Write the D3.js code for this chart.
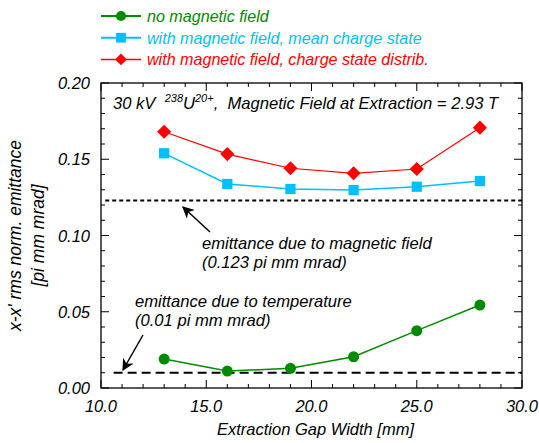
<!DOCTYPE html>
<html>
<head>
<meta charset="utf-8">
<script src="https://cdn.jsdelivr.net/npm/d3@7"></script>
<style>
  body { margin: 0; background: #fff; }
  svg text { font-family: "Liberation Sans", Arial, sans-serif; font-style: italic; }
</style>
</head>
<body>
<svg id="chart"></svg>
<script>
// data
const gapWidth = [13, 16, 19, 22, 25, 28];
const noField = [0.0190, 0.0111, 0.0129, 0.0205, 0.0376, 0.0544];
const meanCharge = [0.1539, 0.1338, 0.1305, 0.1298, 0.1320, 0.1357];
const chargeDistrib = [0.1680, 0.1534, 0.1441, 0.1408, 0.1436, 0.1707];
const xTicks = [10, 15, 20, 25, 30];
const yTicks = [0, 0.05, 0.10, 0.15, 0.20];
const magneticLevel = 0.123;
const temperatureLevel = 0.01;

const [w, h] = [539, 443];
const margin = {left: 101, right: 17, top: 83, bottom: 55};

const svg = d3.select("#chart").attr("width", w).attr("height", h);

const x = d3.scaleLinear().domain([10, 30]).range([margin.left, w - margin.right]);
const y = d3.scaleLinear().domain([0, 0.2]).range([h - margin.bottom, margin.top]);

const green = "#008a00", cyan = "#00bfff", red = "#ff0000";

// frame
svg.append("rect")
  .attr("x", x(10)).attr("y", y(0.2))
  .attr("width", x(30) - x(10)).attr("height", y(0) - y(0.2))
  .attr("fill", "none").attr("stroke", "#000").attr("stroke-width", 1.3);

// ticks, all pointing inward
const minorX = d3.range(10, 30.01, 1);
const minorY = d3.range(0, 0.2001, 0.01);
const isMajorX = v => Math.abs(v % 5) < 1e-6;
const isMajorY = v => Math.abs(Math.round(v * 100) % 5) < 1e-6;

const ticks = svg.append("g").attr("stroke", "#000").attr("stroke-width", 1);
minorX.forEach(v => {
  const len = isMajorX(v) ? 8 : 4;
  ticks.append("line").attr("x1", x(v)).attr("x2", x(v)).attr("y1", y(0)).attr("y2", y(0) - len);
  ticks.append("line").attr("x1", x(v)).attr("x2", x(v)).attr("y1", y(0.2)).attr("y2", y(0.2) + len);
});
minorY.forEach(v => {
  const len = isMajorY(v) ? 8 : 4;
  ticks.append("line").attr("y1", y(v)).attr("y2", y(v)).attr("x1", x(10)).attr("x2", x(10) + len);
  ticks.append("line").attr("y1", y(v)).attr("y2", y(v)).attr("x1", x(30)).attr("x2", x(30) - len);
});

// tick labels
svg.append("g").selectAll("text").data(xTicks).join("text")
  .attr("x", d => x(d)).attr("y", y(0) + 24)
  .attr("text-anchor", "middle").attr("font-size", 16.5)
  .text(d3.format(".1f"));
svg.append("g").selectAll("text").data(yTicks).join("text")
  .attr("x", x(10) - 11).attr("y", d => y(d) + 6)
  .attr("text-anchor", "end").attr("font-size", 16.5)
  .text(d3.format(".2f"));

// axis titles
svg.append("text")
  .attr("x", (x(10) + x(30)) / 2 + 4).attr("y", 435)
  .attr("text-anchor", "middle").attr("font-size", 16.5)
  .text("Extraction Gap Width [mm]");
const yTitle = svg.append("g").attr("transform", `translate(0, ${(y(0) + y(0.2)) / 2}) rotate(-90)`);
yTitle.append("text").attr("x", 0).attr("y", 21).attr("text-anchor", "middle").attr("font-size", 17.5)
  .text("x-x' rms norm. emittance");
yTitle.append("text").attr("x", 0).attr("y", 44).attr("text-anchor", "middle").attr("font-size", 17.5)
  .text("[pi mm mrad]");

// reference levels
svg.append("line")
  .attr("x1", x(10.2)).attr("x2", x(30)).attr("y1", y(magneticLevel)).attr("y2", y(magneticLevel))
  .attr("stroke", "#000").attr("stroke-width", 2).attr("stroke-dasharray", "4,3");
svg.append("line")
  .attr("x1", x(10.6)).attr("x2", x(30)).attr("y1", y(temperatureLevel)).attr("y2", y(temperatureLevel))
  .attr("stroke", "#000").attr("stroke-width", 2).attr("stroke-dasharray", "9,5");

// arrows
svg.append("defs").append("marker")
  .attr("id", "head").attr("viewBox", "0 0 10 10").attr("refX", 9).attr("refY", 5)
  .attr("markerWidth", 12).attr("markerHeight", 12).attr("markerUnits", "userSpaceOnUse")
  .attr("orient", "auto")
  .append("path").attr("d", "M0,0 L10,5 L0,10 L3,5 Z").attr("fill", "#000");
svg.append("line")
  .attr("x1", 210).attr("y1", 232).attr("x2", 183).attr("y2", 207)
  .attr("stroke", "#000").attr("stroke-width", 1.5).attr("marker-end", "url(#head)");
svg.append("line")
  .attr("x1", 143).attr("y1", 335).attr("x2", 123).attr("y2", 370)
  .attr("stroke", "#000").attr("stroke-width", 1.5).attr("marker-end", "url(#head)");

// annotations
const note = (tx, ty, s) => svg.append("text").attr("x", tx).attr("y", ty).attr("font-size", 16.6).text(s);
note(202, 249, "emittance due to magnetic field");
note(202, 268, "(0.123 pi mm mrad)");
note(135, 307, "emittance due to temperature");
note(135, 326, "(0.01 pi mm mrad)");

const title = svg.append("text").attr("x", 113).attr("y", 109).attr("font-size", 16.6).attr("xml:space", "preserve");
title.append("tspan").text("30 kV  ");
title.append("tspan").attr("font-size", 11).attr("dy", -7).text("238");
title.append("tspan").attr("dy", 7).text("U");
title.append("tspan").attr("font-size", 11).attr("dy", -7).text("20+");
title.append("tspan").attr("dy", 7).text(",  Magnetic Field at Extraction = 2.93 T");

// series
const diamond = {draw(ctx, size) {
  const r = Math.sqrt(size / 2);
  ctx.moveTo(0, -r); ctx.lineTo(r, 0); ctx.lineTo(0, r); ctx.lineTo(-r, 0); ctx.closePath();
}};
const series = [
  {name: "no magnetic field", values: noField, color: green, shape: d3.symbolCircle, size: 95, legSize: 80, lw: 1.5, legLw: 2},
  {name: "with magnetic field, mean charge state", values: meanCharge, color: cyan, shape: d3.symbolSquare, size: 105, legSize: 95, lw: 1.5, legLw: 2},
  {name: "with magnetic field, charge state distrib.", values: chargeDistrib, color: red, shape: diamond, size: 100, legSize: 70, lw: 1.2, legLw: 1.5}
];

const line = d3.line().x(d => x(d[0])).y(d => y(d[1]));
series.forEach(s => {
  const pts = gapWidth.map((g, i) => [g, s.values[i]]);
  svg.append("path").attr("d", line(pts)).attr("fill", "none").attr("stroke", s.color).attr("stroke-width", s.lw);
  svg.append("g").selectAll("path").data(pts).join("path")
    .attr("transform", d => `translate(${x(d[0])},${y(d[1])})`)
    .attr("d", d3.symbol().type(s.shape).size(s.size))
    .attr("fill", s.color);
});

// legend
const legend = svg.append("g");
series.forEach((s, i) => {
  const ly = 16 + i * 21.7;
  legend.append("line").attr("x1", 101).attr("x2", 141).attr("y1", ly).attr("y2", ly)
    .attr("stroke", s.color).attr("stroke-width", s.legLw);
  legend.append("path").attr("transform", `translate(121,${ly})`)
    .attr("d", d3.symbol().type(s.shape).size(s.legSize)).attr("fill", s.color);
  legend.append("text").attr("x", 147).attr("y", ly + 6).attr("font-size", 16.1)
    .attr("fill", s.color).text(s.name);
});
</script>
</body>
</html>
